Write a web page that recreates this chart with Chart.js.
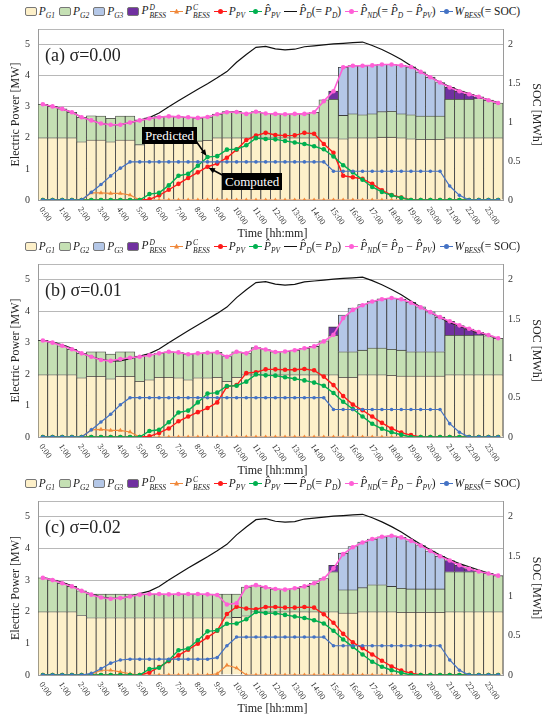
<!DOCTYPE html>
<html>
<head>
<meta charset="utf-8">
<script src="https://cdn.jsdelivr.net/npm/chart.js@4.4.1/dist/chart.umd.min.js"></script>
<style>
  body { margin: 0; background: #fff; }
  #page { position: relative; width: 545px; height: 717px; overflow: hidden; font-family: "Liberation Serif", "Times New Roman", serif; color: #222; }
  canvas { position: absolute; left: 0; }
  .legend { position: absolute; left: 0; width: 545px; height: 16px; display: flex; justify-content: center; align-items: center; font-size: 11.5px; white-space: nowrap; }
  .item { display: inline-flex; align-items: center; margin: 0 2px; }
  .lab { display: inline-block; line-height: 16px; }
  .box { display: inline-block; width: 10px; height: 7px; border: 1px solid #777; border-radius: 2px; margin-right: 2px; }
  .mk { position: relative; display: inline-block; width: 13px; height: 8px; margin-right: 2px; }
  .mk .ln { position: absolute; left: 0; right: 0; top: 3.5px; height: 1.2px; }
  .mk .pt { position: absolute; left: 4px; top: 1.5px; width: 5px; height: 5px; border-radius: 50%; }
  .mk .tri { border-radius: 0; clip-path: polygon(50% 0, 100% 100%, 0 100%); }
  .lab sub { font-size: 7.5px; font-style: italic; line-height: 0; vertical-align: -3px; }
  .ss { display: inline-flex; flex-direction: column; font-size: 7.5px; font-style: italic; line-height: 8px; vertical-align: 4px; margin-left: 1px; }
  .xtitle { position: absolute; left: 0; width: 545px; text-align: center; font-size: 12px; line-height: 14px; }
  .tag { position: absolute; left: 45px; font-size: 18px; line-height: 18px; }
  .note { position: absolute; background: #000; color: #fff; font-size: 13px; line-height: 15px; padding: 1px 3px; }
</style>
</head>
<body>
<div id="page"></div>
<script>
const SERIF = '"Liberation Serif", "Times New Roman", serif';

// x categories: half-hourly steps, labelled every hour
const hourTicks = ['0:00','1:00','2:00','3:00','4:00','5:00','6:00','7:00','8:00','9:00','10:00','11:00',
  '12:00','13:00','14:00','15:00','16:00','17:00','18:00','19:00','20:00','21:00','22:00','23:00'];
const categories = hourTicks.flatMap(h => [h, h.replace(':00', ':30')]);

// shared by all three cases
const demandHat = [3.08,3.01,2.93,2.82,2.66,2.56,2.46,2.42,2.42,2.49, 2.57,2.65,2.80,3.00,3.19,3.38,3.56,3.74,3.93,4.13,
  4.43,4.68,4.91,4.94,4.86,4.83,4.85,4.93,4.96,4.99, 5.02,5.04,5.06,5.08,4.97,4.84,4.69,4.52,4.32,4.13,
  3.96,3.79,3.64,3.52,3.42,3.32,3.22,3.13];
const pvHat = [0,0,0,0,0,0,0,0,0,0, 0,0.19,0.23,0.47,0.78,0.84,1.10,1.38,1.41,1.62,
  1.63,1.76,1.99,1.96,1.95,1.90,1.85,1.80,1.73,1.63, 1.40,1.12,0.89,0.65,0.42,0.26,0.15,0.07,0,0,
  0,0,0,0,0,0,0,0];

// (a) sigma = 0.00
const g1A = [2.00,2.00,2.00,2.00,1.87,1.93,1.93,1.87,1.93,1.93, 1.78,1.88,1.93,1.93,1.90,1.88,1.90,1.92,2.00,2.00,
  2.00,2.00,2.00,2.00,2.00,2.00,2.00,2.00,2.00,2.00, 2.00,1.97,2.00,2.00,2.00,2.02,2.02,2.00,1.97,1.95,
  1.95,1.95,2.00,2.00,2.00,2.00,2.00,2.00];
const g2A = [1.08,1.01,0.93,0.82,0.79,0.78,0.77,0.76,0.77,0.77, 0.80,0.76,0.75,0.77,0.78,0.78,0.74,0.75,0.76,0.84,
  0.85,0.78,0.84,0.78,0.77,0.76,0.77,0.77,0.82,1.22, 1.24,0.75,0.77,0.74,0.77,0.82,0.83,0.77,0.77,0.75,
  0.75,0.75,1.24,1.24,1.24,1.26,1.21,1.12];
const g3A = [0,0,0,0,0,0,0,0,0,0, 0,0,0,0,0,0,0,0,0,0, 0,0,0,0,0,0,0,0,0,0,
  0,1.55,1.55,1.58,1.56,1.52,1.51,1.56,1.54,1.42, 1.25,1.08,0,0,0,0,0,0];
const disA = [0,0,0,0,0,0,0,0,0,0, 0,0,0,0,0,0,0,0,0,0, 0,0,0,0,0,0,0,0,0,0,
  0.26,0,0,0,0,0,0,0,0,0, 0,0,0.38,0.26,0.16,0.06,0,0];
const chA = [0,0,0,0,0,0.23,0.23,0.21,0.21,0.16, 0,0,0,0,0,0,0,0,0,0, 0,0,0,0,0,0,0,0,0,0,
  0,0,0,0,0,0,0,0,0,0, 0,0,0,0,0,0,0,0];
const pvA = [0,0,0,0,0,0,0,0,0,0, 0,0.02,0.15,0.33,0.52,0.71,0.89,1.07,1.17,1.36,
  1.62,1.93,2.07,2.16,2.09,2.07,2.08,2.16,2.13,1.80, 1.52,0.78,0.73,0.68,0.52,0.31,0.16,0.08,0,0,
  0,0,0,0,0,0,0,0];
const ndA = [3.08,3.01,2.93,2.82,2.66,2.56,2.46,2.42,2.42,2.49, 2.56,2.62,2.66,2.69,2.68,2.66,2.64,2.67,2.76,2.82,
  2.83,2.77,2.84,2.78,2.77,2.76,2.77,2.77,2.82,3.18, 3.50,4.27,4.32,4.32,4.33,4.36,4.36,4.33,4.28,4.12,
  3.95,3.78,3.62,3.50,3.40,3.32,3.21,3.12];
const socA = [0,0,0,0,0,0.10,0.20,0.31,0.41,0.49, 0.49,0.49,0.49,0.49,0.49,0.49,0.49,0.49,0.49,0.49,
  0.49,0.49,0.49,0.49,0.49,0.49,0.49,0.49,0.49,0.49, 0.37,0.37,0.37,0.37,0.37,0.37,0.37,0.37,0.37,0.37,
  0.37,0.37,0.18,0.06,0,0,0,0];

// (b) sigma = 0.01
const g1B = [1.98,1.98,1.98,1.98,1.88,1.93,1.93,1.85,1.93,1.93, 1.77,1.82,1.90,1.90,1.88,1.82,1.88,1.88,1.90,1.77,
  1.90,1.98,1.98,1.98,1.98,1.98,1.98,1.98,1.98,1.98, 1.98,1.90,1.90,1.98,1.98,1.98,1.96,1.94,1.94,1.94,
  1.94,1.94,1.98,1.98,1.98,1.98,1.98,1.98];
const g2B = [1.09,1.02,0.92,0.81,0.78,0.78,0.78,0.79,0.78,0.78, 0.80,0.80,0.77,0.81,0.81,0.82,0.78,0.80,0.79,0.79,
  0.81,0.69,0.86,0.80,0.73,0.74,0.78,0.84,0.90,1.08, 1.25,0.81,0.81,0.78,0.85,0.85,0.83,0.82,0.77,0.77,
  0.77,0.77,1.25,1.25,1.25,1.26,1.24,1.16];
const g3B = [0,0,0,0,0,0,0,0,0,0, 0,0,0,0,0,0,0,0,0,0, 0,0,0,0,0,0,0,0,0,0,
  0,1.17,1.39,1.45,1.49,1.56,1.63,1.62,1.57,1.43, 1.27,1.10,0,0,0,0,0,0];
const disB = [0,0,0,0,0,0,0,0,0,0, 0,0,0,0,0,0,0,0,0,0, 0,0,0,0,0,0,0,0,0,0,
  0.27,0,0,0,0,0,0,0,0,0, 0,0,0.45,0.31,0.20,0.09,0,0];
const chB = [0,0,0,0,0,0.23,0.24,0.21,0.21,0.16, 0,0,0,0,0,0,0,0,0,0, 0,0,0,0,0,0,0,0,0,0,
  0,0,0,0,0,0,0,0,0,0, 0,0,0,0,0,0,0,0];
const pvB = [0,0,0,0,0,0,0,0,0,0, 0,0.02,0.13,0.27,0.50,0.65,0.79,0.92,1.10,1.60,
  1.65,2.03,2.06,2.15,2.15,2.14,2.14,2.16,2.12,1.92, 1.65,1.30,1.03,0.85,0.65,0.45,0.27,0.14,0.06,0,
  0,0,0,0,0,0,0,0];
const ndB = [3.07,3.00,2.90,2.79,2.66,2.55,2.45,2.42,2.48,2.52, 2.55,2.60,2.66,2.71,2.69,2.63,2.66,2.68,2.69,2.55,
  2.71,2.66,2.84,2.78,2.70,2.72,2.76,2.82,2.88,3.04, 3.25,3.78,4.04,4.19,4.31,4.38,4.42,4.38,4.27,4.12,
  3.97,3.81,3.68,3.55,3.44,3.34,3.24,3.14];
const socB = [0,0,0,0,0,0.09,0.19,0.29,0.41,0.50, 0.50,0.50,0.50,0.50,0.50,0.50,0.50,0.50,0.50,0.50,
  0.50,0.50,0.50,0.50,0.50,0.50,0.50,0.50,0.50,0.50, 0.35,0.35,0.35,0.35,0.35,0.35,0.35,0.35,0.35,0.35,
  0.35,0.35,0.17,0.06,0,0,0,0];

// (c) sigma = 0.02
const g1C = [2.00,2.00,2.00,2.00,1.88,1.81,1.81,1.81,1.81,1.81, 1.81,1.81,1.81,1.81,1.81,1.81,1.81,1.81,1.81,1.81,
  1.82,1.87,2.00,2.00,2.00,2.00,2.00,2.00,2.00,2.00, 2.00,1.96,1.96,2.00,2.00,2.00,2.00,1.98,1.98,1.98,
  1.98,1.98,2.00,2.00,2.00,2.00,2.00,2.00];
const g2C = [1.07,1.00,0.90,0.80,0.78,0.75,0.75,0.75,0.75,0.75, 0.75,0.75,0.75,0.75,0.75,0.75,0.75,0.75,0.75,0.75,
  0.74,0.91,0.84,0.77,0.72,0.70,0.74,0.80,0.90,1.05, 1.26,0.73,0.73,0.76,0.85,0.85,0.80,0.76,0.74,0.74,
  0.74,0.74,1.26,1.26,1.26,1.27,1.21,1.14];
const g3C = [0,0,0,0,0,0,0,0,0,0, 0,0,0,0,0,0,0,0,0,0, 0,0,0,0,0,0,0,0,0,0,
  0,1.16,1.37,1.44,1.45,1.52,1.60,1.61,1.52,1.37, 1.20,1.03,0,0,0,0,0,0];
const disC = [0,0,0,0,0,0,0,0,0,0, 0,0,0,0,0,0,0,0,0,0, 0,0,0,0,0,0,0,0,0,0,
  0.21,0,0,0,0,0,0,0,0,0, 0,0,0.36,0.21,0.10,0.01,0,0];
const chC = [0,0,0,0,0,0.03,0.15,0.15,0.10,0.04, 0,0,0,0,0,0,0,0,0.04,0.31, 0.22,0,0,0,0,0,0,0,0,0,
  0,0,0,0,0,0,0,0,0,0, 0,0,0,0,0,0,0,0];
const pvC = [0,0,0,0,0,0,0,0,0,0, 0,0.08,0.25,0.44,0.62,0.80,0.99,1.19,1.40,1.93,
  2.16,2.10,2.08,2.15,2.15,2.13,2.13,2.15,2.13,1.92, 1.65,1.30,1.03,0.85,0.65,0.45,0.27,0.14,0.06,0,
  0,0,0,0,0,0,0,0];
const ndC = [3.07,3.00,2.90,2.80,2.66,2.54,2.45,2.41,2.43,2.48, 2.54,2.56,2.56,2.55,2.56,2.56,2.56,2.55,2.53,2.23,
  2.27,2.78,2.84,2.77,2.72,2.70,2.74,2.80,2.90,3.05, 3.37,3.82,4.04,4.19,4.30,4.37,4.40,4.35,4.24,4.09,
  3.92,3.75,3.62,3.47,3.36,3.27,3.21,3.14];
const socC = [0,0,0,0,0,0.02,0.08,0.15,0.19,0.20, 0.20,0.20,0.20,0.20,0.20,0.20,0.20,0.20,0.22,0.37,
  0.48,0.48,0.48,0.48,0.48,0.48,0.48,0.48,0.48,0.48, 0.37,0.37,0.37,0.37,0.37,0.37,0.37,0.37,0.37,0.37,
  0.37,0.37,0.19,0.06,0,0,0,0];

const COL = { g1: '#fdf0c9', g2: '#c5e0b4', g3: '#b4c7e7', dis: '#7030a0', ch: '#f0883a',
  pv: '#ff1a1a', pvHat: '#00b050', dem: '#111111', nd: '#ff5fd6', soc: '#4472c4' };

const panels = [
  { id: 'a', tag: '(a) σ=0.00', top: 25, h: 175, g1: g1A, g2: g2A, g3: g3A, dis: disA, ch: chA, pv: pvA, nd: ndA, soc: socA },
  { id: 'b', tag: '(b) σ=0.01', top: 260, h: 177, g1: g1B, g2: g2B, g3: g3B, dis: disB, ch: chB, pv: pvB, nd: ndB, soc: socB },
  { id: 'c', tag: '(c) σ=0.02', top: 497, h: 178, g1: g1C, g2: g2C, g3: g3C, dis: disC, ch: chC, pv: pvC, nd: ndC, soc: socC }
];

function legendHtml() {
  const box = (c, lab) => `<span class="item"><span class="box" style="background:${c}"></span><span class="lab">${lab}</span></span>`;
  const mk = (c, lab, tri, noPt) => `<span class="item"><span class="mk"><span class="ln" style="background:${c}"></span>` +
    (noPt ? '' : `<span class="pt${tri ? ' tri' : ''}" style="background:${c}"></span>`) + `</span><span class="lab">${lab}</span></span>`;
  const hat = '<i>P&#770;</i>';
  return box(COL.g1, '<i>P</i><sub>G1</sub>') +
    box(COL.g2, '<i>P</i><sub>G2</sub>') +
    box(COL.g3, '<i>P</i><sub>G3</sub>') +
    box(COL.dis, '<i>P</i><span class="ss"><span>D</span><span>BESS</span></span>') +
    mk(COL.ch, '<i>P</i><span class="ss"><span>C</span><span>BESS</span></span>', true) +
    mk(COL.pv, '<i>P</i><sub>PV</sub>') +
    mk(COL.pvHat, hat + '<sub>PV</sub>') +
    mk(COL.dem, hat + '<sub>D</sub>(= <i>P</i><sub>D</sub>)', false, true) +
    mk(COL.nd, hat + '<sub>ND</sub>(= ' + hat + '<sub>D</sub> − ' + hat + '<sub>PV</sub>)') +
    mk(COL.soc, '<i>W</i><sub>BESS</sub>(= SOC)');
}

const hourAxis = {
  id: 'hourAxis',
  afterDraw(chart) {
    const { ctx, chartArea } = chart;
    const x = chart.scales.x;
    ctx.save();
    ctx.font = '8.5px ' + SERIF;
    ctx.fillStyle = '#333';
    ctx.textAlign = 'left';
    ctx.textBaseline = 'middle';
    categories.forEach((c, i) => {
      if (!hourTicks.includes(c)) return;
      ctx.save();
      ctx.translate(x.getPixelForValue(i) - 2, chartArea.bottom + 8);
      ctx.rotate(55 * Math.PI / 180);
      ctx.fillText(c, 0, 0);
      ctx.restore();
    });
    ctx.restore();
  }
};

function arrow(ctx, x0, y0, x1, y1) {
  const a = Math.atan2(y1 - y0, x1 - x0);
  ctx.beginPath();
  ctx.moveTo(x0, y0);
  ctx.lineTo(x1 - 5 * Math.cos(a), y1 - 5 * Math.sin(a));
  ctx.stroke();
  ctx.beginPath();
  ctx.moveTo(x1, y1);
  ctx.lineTo(x1 - 7 * Math.cos(a - 0.4), y1 - 7 * Math.sin(a - 0.4));
  ctx.lineTo(x1 - 7 * Math.cos(a + 0.4), y1 - 7 * Math.sin(a + 0.4));
  ctx.closePath();
  ctx.fill();
}

// arrows from the two call-outs in case (a) to the 8:30 points
const callouts = {
  id: 'callouts',
  afterDraw(chart) {
    const { ctx } = chart;
    const x = chart.scales.x, y = chart.scales.y;
    const px = x.getPixelForValue(17);
    ctx.save();
    ctx.strokeStyle = '#000';
    ctx.fillStyle = '#000';
    ctx.lineWidth = 1.6;
    arrow(ctx, 196, 126, px - 1, y.getPixelForValue(pvHat[17]) - 1);
    arrow(ctx, 226, 162, px + 1, y.getPixelForValue(pvA[17]) + 1);
    ctx.restore();
  }
};

function lineSet(label, data, color, extra) {
  return Object.assign({
    type: 'line', label, data, borderColor: color, backgroundColor: color,
    pointBackgroundColor: color, pointBorderWidth: 0, pointRadius: 2.3,
    borderWidth: 1.4, tension: 0, yAxisID: 'y', stack: 'line-' + label
  }, extra);
}

function barSet(label, data, color) {
  return {
    type: 'bar', label, data: data.map(v => v === 0 ? null : v),
    backgroundColor: color, borderColor: '#3c3c3c', borderWidth: 0.8,
    barPercentage: 1, categoryPercentage: 1, stack: 'gen', order: 10, yAxisID: 'y'
  };
}

const page = document.getElementById('page');

panels.forEach(p => {
  const lg = document.createElement('div');
  lg.className = 'legend';
  lg.style.top = (p.top - 22) + 'px';
  lg.innerHTML = legendHtml();
  page.appendChild(lg);

  const cv = document.createElement('canvas');
  cv.width = 545;
  cv.height = 10 + p.h + 36;
  cv.style.top = (p.top - 10) + 'px';
  page.appendChild(cv);

  const tag = document.createElement('div');
  tag.className = 'tag';
  tag.style.top = (p.top + 21) + 'px';
  tag.textContent = p.tag;
  page.appendChild(tag);

  const xt = document.createElement('div');
  xt.className = 'xtitle';
  xt.style.top = (p.top + p.h + 26) + 'px';
  xt.textContent = 'Time [hh:mm]';
  page.appendChild(xt);

  const tickFont = { family: SERIF, size: 10 };
  new Chart(cv, {
    type: 'bar',
    data: {
      labels: categories,
      datasets: [
        lineSet('W_BESS', p.soc, COL.soc, { yAxisID: 'y1', pointRadius: 1.8, borderWidth: 1.2, order: 1 }),
        lineSet('P_ND', p.nd, COL.nd, { borderWidth: 1.6, order: 2 }),
        lineSet('P_PV hat', pvHat, COL.pvHat, { order: 3 }),
        lineSet('P_PV', p.pv, COL.pv, { order: 4 }),
        lineSet('P_BESS C', p.ch, COL.ch, { pointStyle: 'triangle', pointRadius: 2.6, borderWidth: 1.2, order: 5 }),
        lineSet('P_D hat', demandHat, COL.dem, { pointRadius: 0, borderWidth: 1.2, order: 6 }),
        barSet('P_G1', p.g1, COL.g1),
        barSet('P_G2', p.g2, COL.g2),
        barSet('P_G3', p.g3, COL.g3),
        barSet('P_BESS D', p.dis, COL.dis)
      ]
    },
    options: {
      responsive: false,
      animation: false,
      devicePixelRatio: 1,
      layout: { padding: { top: 10, left: 0, right: 0, bottom: 0 } },
      plugins: { legend: { display: false }, tooltip: { enabled: false } },
      scales: {
        x: {
          stacked: true,
          grid: { display: false },
          border: { color: '#9a9a9a' },
          ticks: { display: false },
          afterFit: s => { s.height = 36; }
        },
        y: {
          stacked: true, position: 'left', min: 0, max: 5.5,
          ticks: { stepSize: 1, padding: 8, font: tickFont, color: '#333',
            callback: v => Number.isInteger(v) ? v : '' },
          grid: { color: '#b8b8b8', drawTicks: false },
          border: { color: '#9a9a9a' },
          title: { display: true, text: 'Electric Power [MW]', color: '#222',
            font: { family: SERIF, size: 12 }, padding: { top: 9, bottom: 0 } },
          afterFit: s => { s.width = 38; }
        },
        y1: {
          position: 'right', min: 0, max: 2.2,
          ticks: { stepSize: 0.5, padding: 5, font: tickFont, color: '#333',
            callback: v => Math.abs(v * 2 - Math.round(v * 2)) < 1e-6 ? v : '' },
          grid: { display: false, drawTicks: false },
          border: { color: '#9a9a9a' },
          title: { display: true, text: 'SOC [MWh]', color: '#222',
            font: { family: SERIF, size: 12 }, padding: { top: 2, bottom: 0 } },
          afterFit: s => { s.width = 42; }
        }
      }
    },
    plugins: p.id === 'a' ? [hourAxis, callouts] : [hourAxis]
  });
});

// call-out labels of case (a)
[['Predicted', 142, 127], ['Computed', 222, 173]].forEach(([txt, l, t]) => {
  const n = document.createElement('div');
  n.className = 'note';
  n.style.left = l + 'px';
  n.style.top = t + 'px';
  n.textContent = txt;
  page.appendChild(n);
});
</script>
</body>
</html>
